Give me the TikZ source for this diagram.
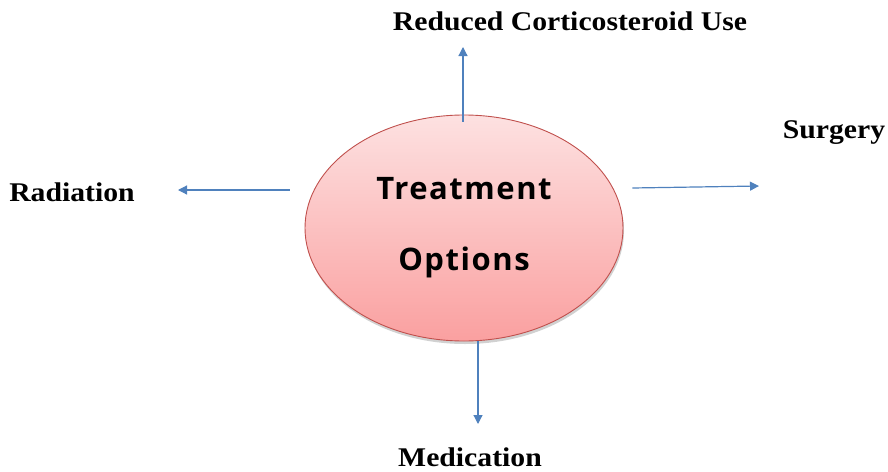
\documentclass[tikz,border=0pt]{standalone}
\usepackage{fontspec}
\setmainfont{Liberation Serif}
\newfontfamily\labelfont{Liberation Serif}[FakeStretch=1.1]
\newfontfamily\ovalfont{Open Sans}[LetterSpace=5]
\definecolor{arrowblue}{RGB}{79,129,189}
\definecolor{ovaledge}{RGB}{192,80,77}
\definecolor{ovaltop}{RGB}{253,225,225}
\definecolor{ovalbottom}{RGB}{250,160,160}
\usetikzlibrary{arrows.meta,shapes.geometric,shadows}

\begin{document}
\begin{tikzpicture}[x=1pt,y=-1pt,
    option/.style={font=\labelfont\fontsize{27}{30}\selectfont\bfseries},
    flow/.style={draw=arrowblue,line width=1.2pt,-{Triangle[length=9pt,width=9pt]}},
    every node/.style={inner sep=0pt}]
  \useasboundingbox (0,0) rectangle (888,471);
  %% centre oval
  \node[ellipse,draw=ovaledge,line width=0.9pt,top color=ovaltop,bottom color=ovalbottom,
        minimum width=318pt,minimum height=226pt,align=center,
        general shadow={fill=black!18,shadow yshift=-3pt,shadow xshift=1pt},
        font=\ovalfont\bfseries\fontsize{31}{71}\selectfont]
        (opt) at (464,228) {\raisebox{3pt}{Treatment}\\\raisebox{3pt}{Options}};
  %% labels
  \node[option] (reduced) at (570,21) {Reduced Corticosteroid Use};
  \node[option] (surgery) at (834,133) {Surgery};
  \node[option] (radiation) at (72,192) {Radiation};
  \node[option] (medication) at (470,457) {Medication};
  %% arrow ends
  \coordinate (upend) at (463,47);
  \coordinate (rightend) at (759,186);
  \coordinate (leftend) at (178,190);
  \coordinate (downend) at (478,424);
  %% arrows
  \draw[flow] ([xshift=-1pt,yshift=-7pt]opt.north) -- (upend);
  \draw[flow] ([xshift=9pt]opt.east |- 0,188) -- (rightend);
  \draw[flow] ([xshift=-15pt]opt.west |- 0,190) -- (leftend);
  \draw[flow] (opt.south -| 478,0) -- (downend);
\end{tikzpicture}
\end{document}
